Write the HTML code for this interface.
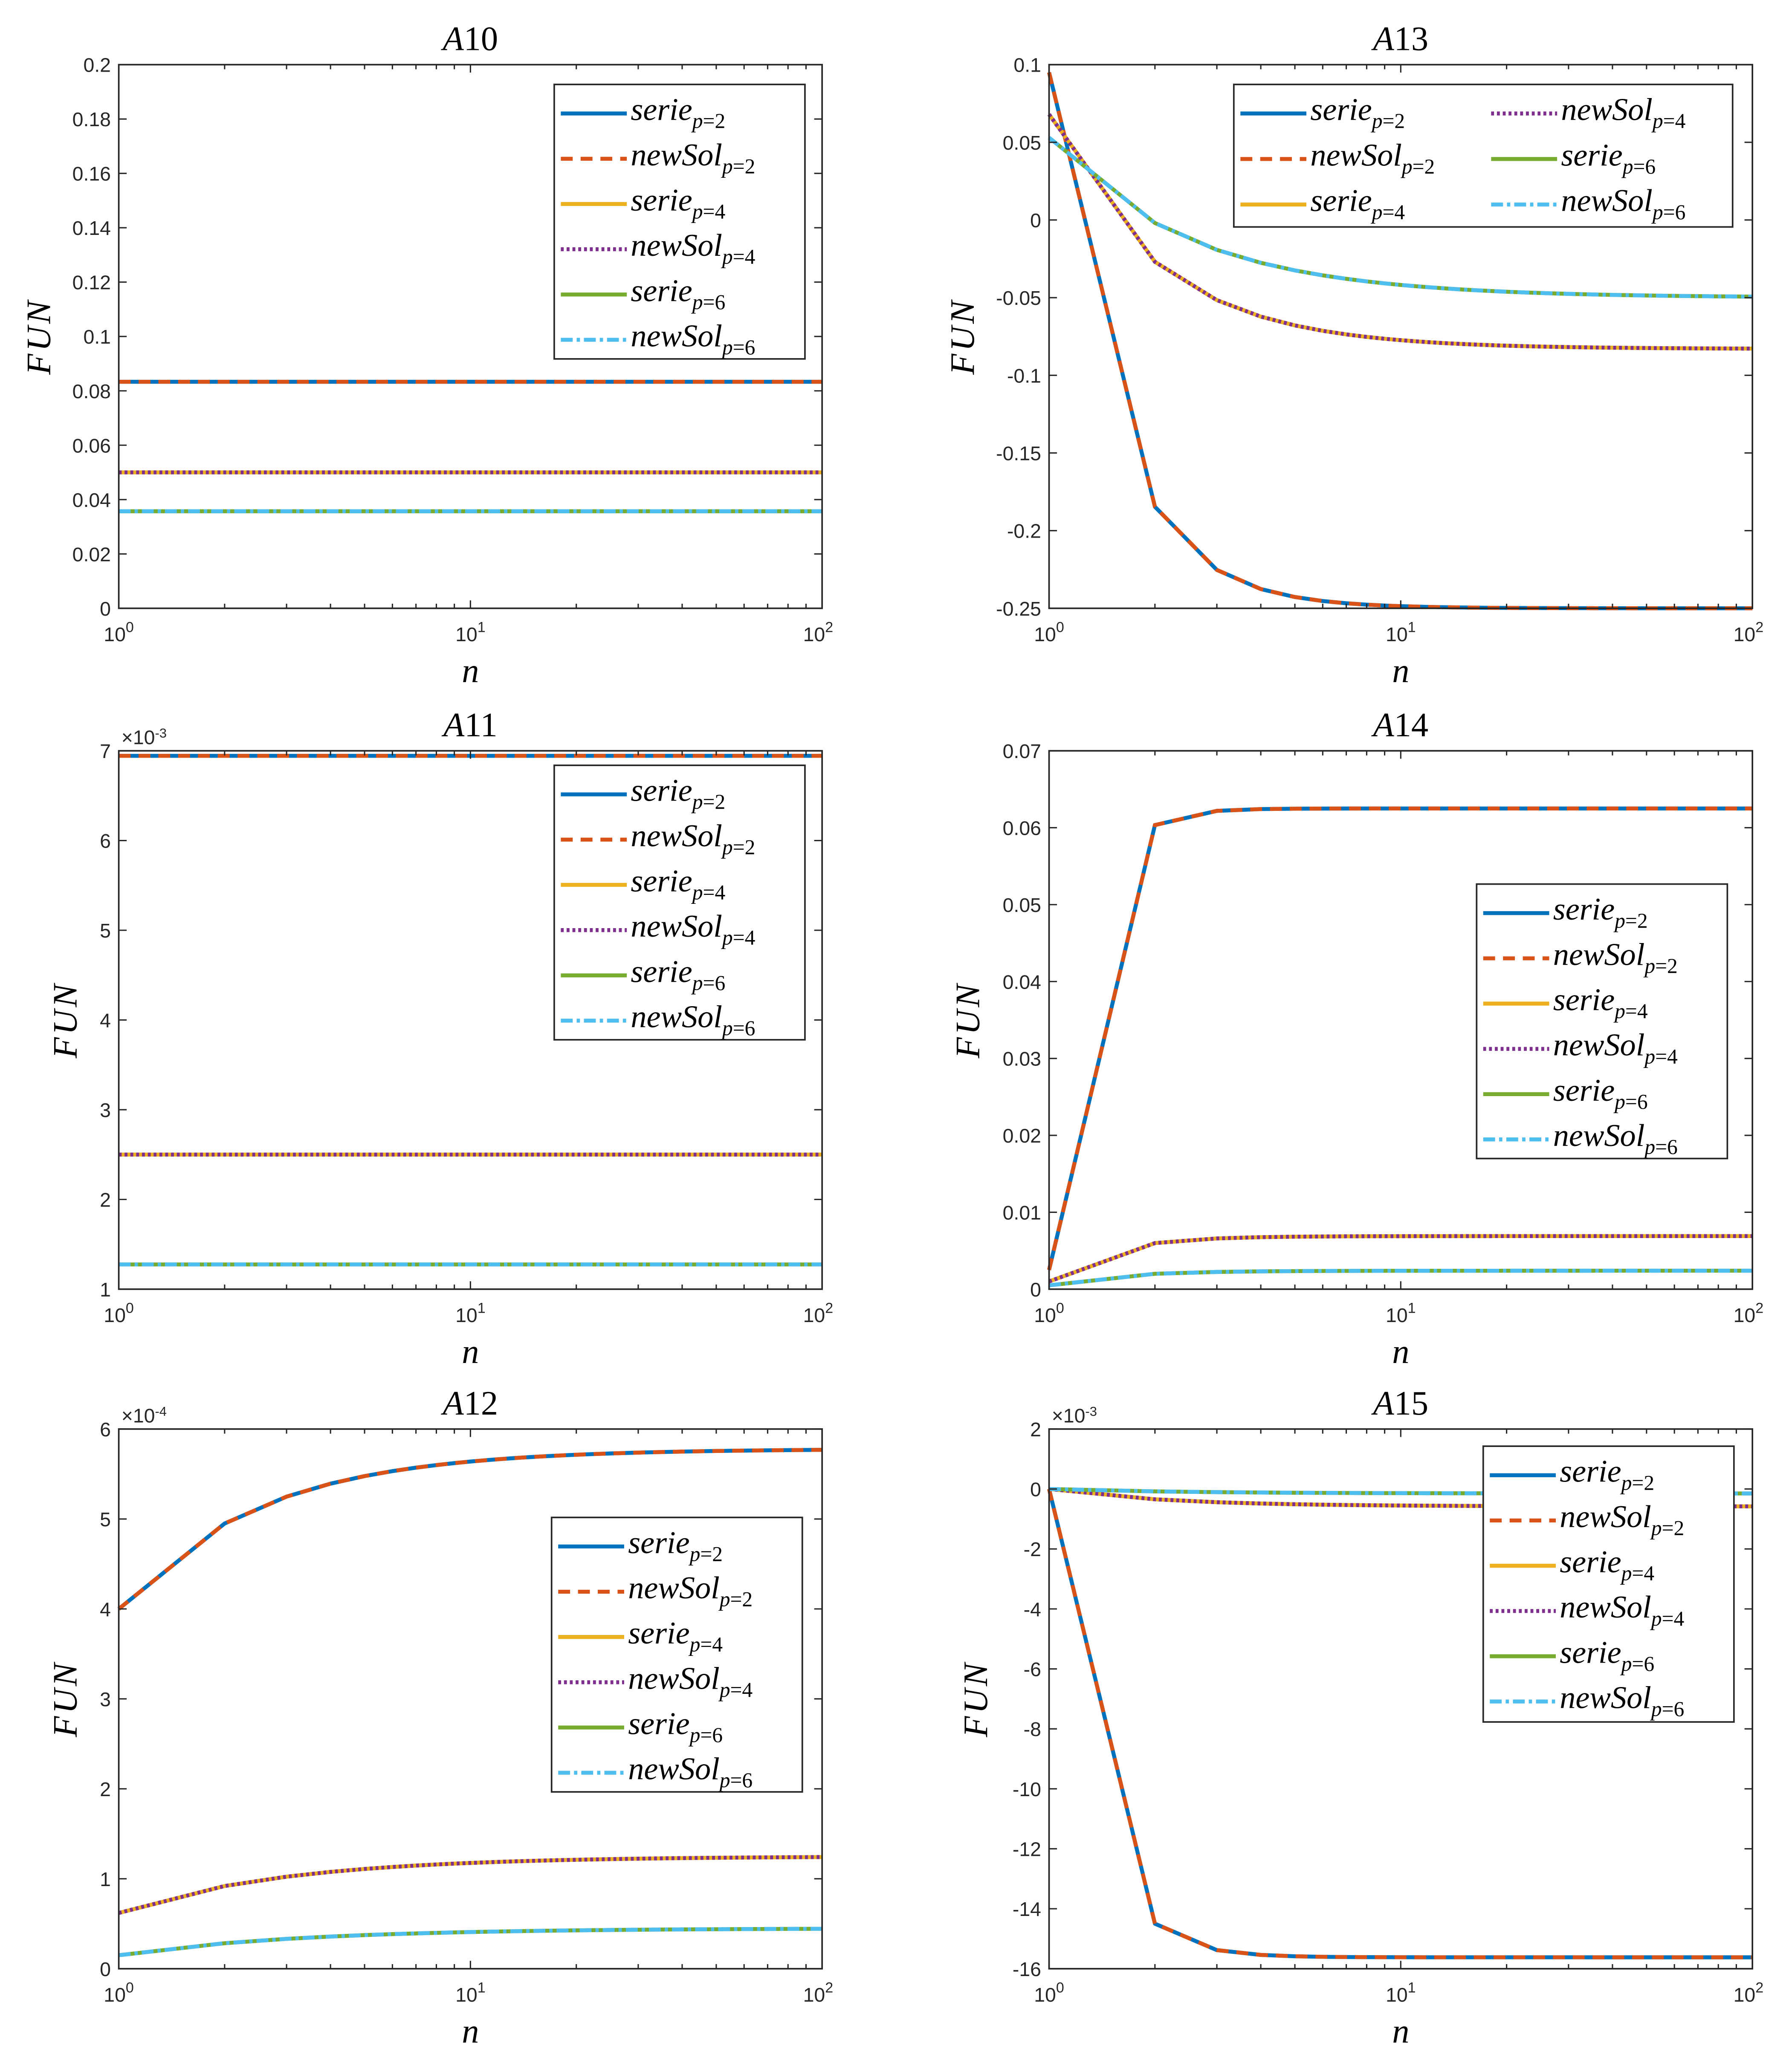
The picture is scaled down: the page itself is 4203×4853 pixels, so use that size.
<!DOCTYPE html>
<html><head><meta charset="utf-8">
<style>
html,body{margin:0;padding:0;background:#fff;}
svg{display:block;}
.tk{font-family:"Liberation Sans",sans-serif;font-size:15px;fill:#262626;}
.it{font-family:"Liberation Serif",serif;font-style:italic;fill:#000;}
</style></head>
<body>
<svg id="s" xmlns="http://www.w3.org/2000/svg" width="4203" height="4853" viewBox="0 0 1358 1568" preserveAspectRatio="none"></svg>
<script>
const S=document.getElementById('s');
let h='<rect width="1358" height="1568" fill="#fff"/>';
const C={b:'#0072BD',o:'#D95319',y:'#EDB120',p:'#7E2F8E',g:'#77AC30',c:'#4DBEEE'};
const LW=3;
function series(n1,asym,k){const a=[];for(let n=1;n<=100;n++)a.push([n,asym+(n1-asym)/Math.pow(n,k)]);return a;}
function panel(P){
 const {x0,x1,y0,y1,ymin,ymax}=P;
 const X=n=>x0+(x1-x0)*Math.log10(n)/2;
 const Y=v=>y1-(y1-y0)*(v-ymin)/(ymax-ymin);
 h+=`<text x="${(x0+x1)/2}" y="${y0-11}" text-anchor="middle" font-family="Liberation Serif,serif" font-size="26" fill="#000"><tspan font-style="italic">A</tspan>${P.t.slice(1)}</text>`;
 const sty=[[C.b,''],[C.o,'9,6'],[C.y,''],[C.p,'2.2,2.2'],[C.g,''],[C.c,'9,3,2.5,3']];
 const sd=P.data;
 for(let i=0;i<3;i++){
  const pts=sd[i].map(q=>X(q[0]).toFixed(2)+','+Y(q[1]).toFixed(2)).join(' ');
  h+=`<polyline points="${pts}" fill="none" stroke="${sty[2*i][0]}" stroke-width="${LW}" stroke-linejoin="round"/>`;
  h+=`<polyline points="${pts}" fill="none" stroke="${sty[2*i+1][0]}" stroke-width="${LW}" stroke-dasharray="${sty[2*i+1][1]}"/>`;
 }
 h+=`<rect x="${x0}" y="${y0}" width="${x1-x0}" height="${y1-y0}" fill="none" stroke="#262626" stroke-width="1.2"/>`;
 for(let d=0;d<2;d++)for(let m=1;m<=9;m++){const n=Math.pow(10,d)*m;const xx=X(n);const L=m==1?6:3.5;
  h+=`<line x1="${xx}" y1="${y1}" x2="${xx}" y2="${y1-L}" stroke="#262626"/><line x1="${xx}" y1="${y0}" x2="${xx}" y2="${y0+L}" stroke="#262626"/>`;}
 for(let d=0;d<=2;d++){const xx=X(Math.pow(10,d));
  h+=`<text class="tk" x="${xx+(d==2?-3:0)}" y="${y1+25}" text-anchor="middle">10<tspan dy="-7" font-size="11">${d}</tspan></text>`;}
 P.yt.forEach(([v,l])=>{const yy=Y(v);
  h+=`<line x1="${x0}" y1="${yy}" x2="${x0+6}" y2="${yy}" stroke="#262626"/><line x1="${x1}" y1="${yy}" x2="${x1-6}" y2="${yy}" stroke="#262626"/>`;
  h+=`<text class="tk" x="${x0-6}" y="${yy+5.5}" text-anchor="end">${l}</text>`;});
 if(P.exp)h+=`<text class="tk" x="${x0+2}" y="${y0-5}" font-size="13">×10<tspan dy="-5" font-size="10">${P.exp}</tspan></text>`;
 h+=`<text class="it" x="${(x0+x1)/2}" y="${y1+56}" text-anchor="middle" font-size="26">n</text>`;
 h+=`<text class="it" transform="translate(${P.fx},${(y0+y1)/2}) rotate(-90)" text-anchor="middle" font-size="26" letter-spacing="2">FUN</text>`;
 const L=P.leg;
 h+=`<rect x="${L.x}" y="${L.y}" width="${L.w}" height="${L.h}" fill="#fff" stroke="#262626" stroke-width="1.2"/>`;
 const names=[['serie','2'],['newSol','2'],['serie','4'],['newSol','4'],['serie','6'],['newSol','6']];
 names.forEach((nm,i)=>{
  let col=0,row=i;
  if(L.cols==2){col=i<3?0:1;row=i%3;}
  const rs=L.cols==2?34.5:34.3;
  const yy=L.y+22+row*rs;const lx=L.x+5+col*190;
  h+=`<line x1="${lx}" y1="${yy}" x2="${lx+50}" y2="${yy}" stroke="${sty[i][0]}" stroke-width="${LW}" ${sty[i][1]?`stroke-dasharray="${sty[i][1]}"`:''}/>`;
  h+=`<text class="it" x="${lx+53}" y="${yy+5}" font-size="24">${nm[0]}<tspan dy="6" font-size="16">p</tspan><tspan font-style="normal" font-size="16">=${nm[1]}</tspan></text>`;
 });
}
function flat(v){return [[1,v],[100,v]];}
function yt(a,b,s,fmt){const r=[];for(let v=a;v<=b+1e-9;v+=s){r.push([v,fmt(v)]);}return r;}
const fm=v=>(+v.toFixed(4)).toString();
panel({t:'A10',x0:90,x1:623,y0:49,y1:461,ymin:0,ymax:0.2,fx:38,
 yt:yt(0,0.2,0.02,fm),data:[flat(1/12),flat(0.05),flat(0.0357)],
 leg:{x:420,y:64,w:190,h:208,cols:1}});
panel({t:'A13',x0:795,x1:1328,y0:49,y1:461,ymin:-0.25,ymax:0.1,fx:738,
 yt:yt(-0.25,0.1,0.05,fm),
 data:[series(0.095,-0.25,2.4),series(0.068,-0.083,1.43),series(0.053,-0.05,1.1)],
 leg:{x:935,y:64,w:378,h:108,cols:2}});
panel({t:'A11',x0:90,x1:623,y0:569,y1:977,ymin:1,ymax:7,fx:58,exp:'-3',
 yt:yt(1,7,1,v=>v.toFixed(0)),data:[flat(6.944),flat(2.5),flat(1.2755)],
 leg:{x:420,y:580,w:190,h:208,cols:1}});
panel({t:'A14',x0:795,x1:1328,y0:569,y1:977,ymin:0,ymax:0.07,fx:742,
 yt:yt(0,0.07,0.01,fm),
 data:[series(0.0025,0.0625,4.8),series(0.001,0.0069,2.7),series(0.0005,0.0024,2.25)],
 leg:{x:1119,y:670,w:190,h:208,cols:1}});
panel({t:'A12',x0:90,x1:623,y0:1083,y1:1492,ymin:0,ymax:6,fx:58,exp:'-4',
 yt:yt(0,6,1,v=>v.toFixed(0)),
 data:[series(4.0,5.78,1.1),series(0.62,1.25,0.93),series(0.15,0.45,0.85)],
 leg:{x:418,y:1150,w:190,h:208,cols:1}});
panel({t:'A15',x0:795,x1:1328,y0:1083,y1:1492,ymin:-16,ymax:2,fx:748,exp:'-3',
 yt:yt(-16,2,2,v=>v.toFixed(0)),
 data:[series(0,-15.62,3.8),series(0,-0.58,1.3),series(0,-0.15,1.1)],
 leg:{x:1124,y:1096,w:190,h:209,cols:1}});
S.innerHTML=h;
</script>
</body></html>
